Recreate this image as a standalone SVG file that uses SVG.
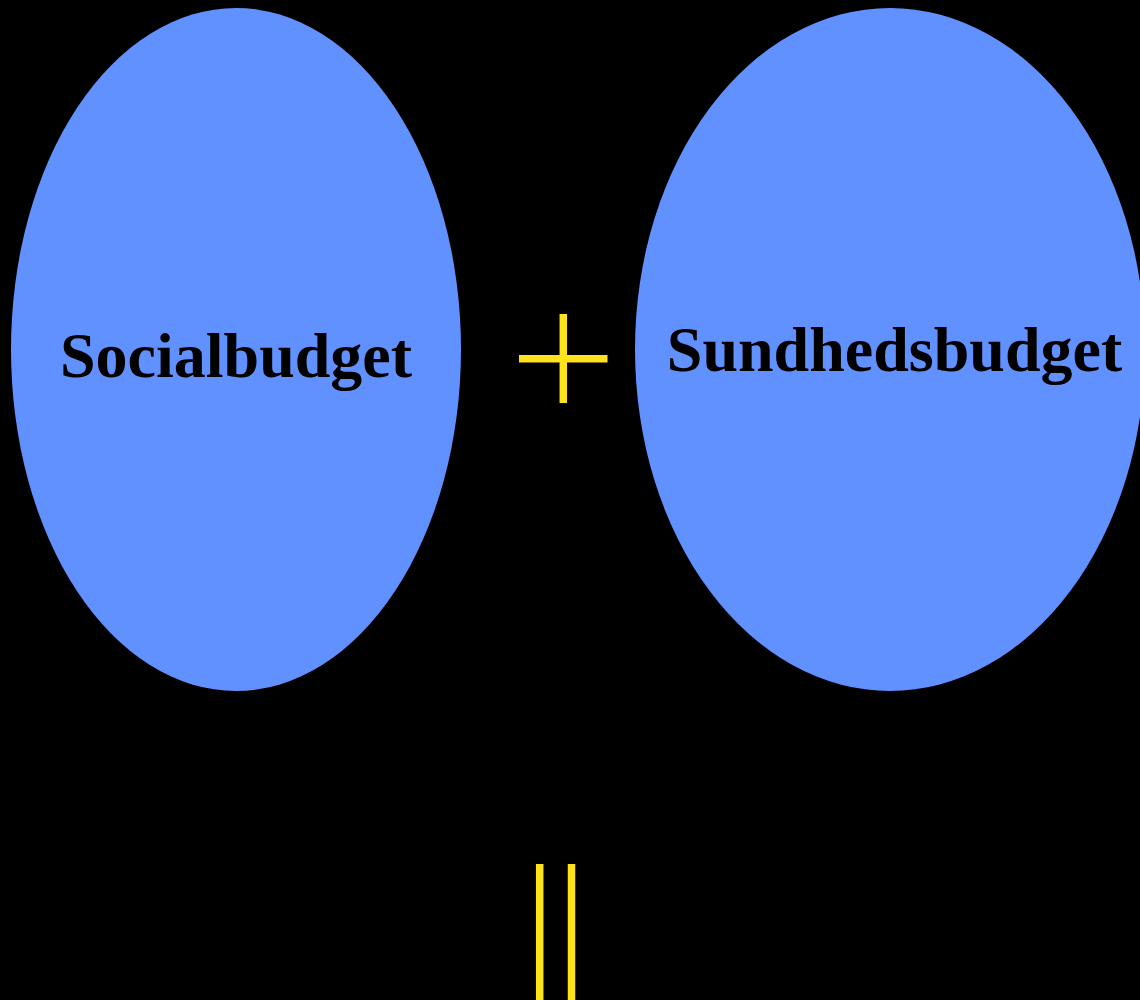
<svg xmlns="http://www.w3.org/2000/svg" width="1140" height="1000" viewBox="0 0 1140 1000">
<style>
.node{fill:#6190FF}
.lbl{font-family:"Liberation Serif","Times New Roman",serif;font-weight:bold;font-size:64px;fill:#000;text-anchor:middle}
.op{stroke:#FFE21C;stroke-width:7.5;fill:none}
</style>
<rect width="1140" height="1000" fill="#000"/>
<g id="socialbudget">
<ellipse class="node" cx="236" cy="349.5" rx="225" ry="341.5"/>
<text class="lbl" x="236" y="377">Socialbudget</text>
</g>
<g id="sundhedsbudget">
<ellipse class="node" cx="890" cy="349.5" rx="255" ry="341.5"/>
<text class="lbl" x="894.5" y="371">Sundhedsbudget</text>
</g>
<g id="operators">
<line class="op" x1="519" y1="358.7" x2="607.5" y2="358.7"/>
<line class="op" x1="563.3" y1="314" x2="563.3" y2="403"/>
<line class="op" x1="539.7" y1="864" x2="539.7" y2="1000"/>
<line class="op" x1="571.5" y1="864" x2="571.5" y2="1000"/>
</g>
</svg>
